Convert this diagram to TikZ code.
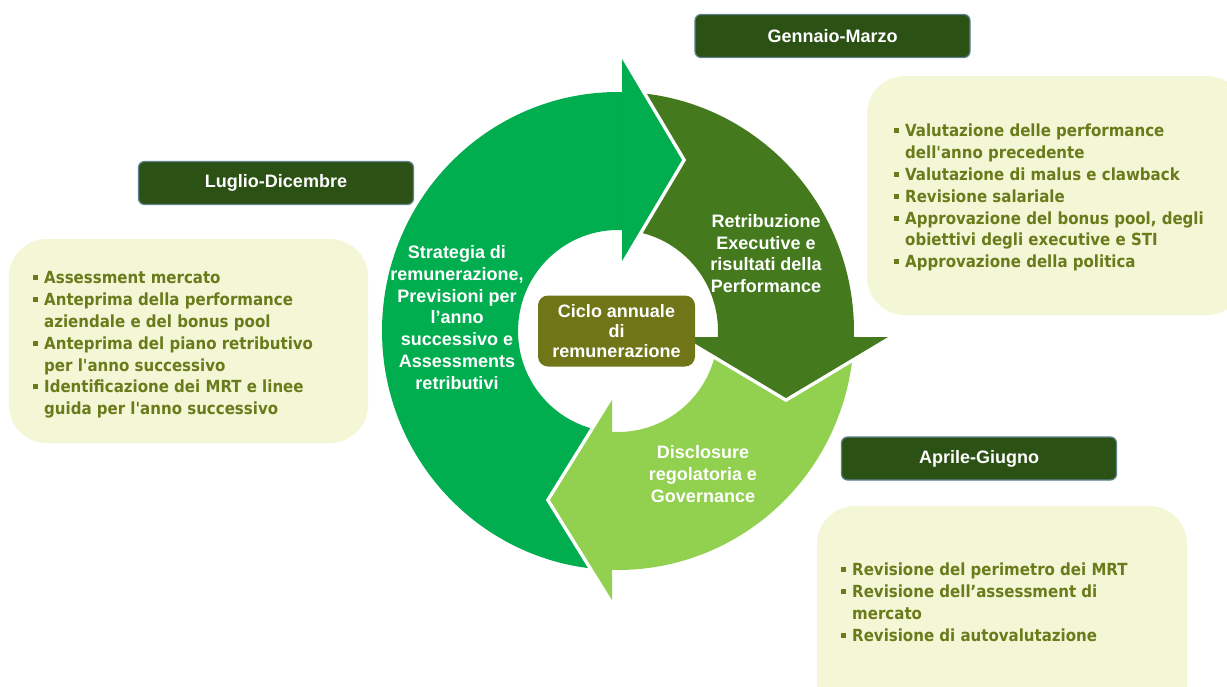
\documentclass[tikz,border=0pt]{standalone}
\usepackage{fontspec}
\setmainfont{Liberation Sans}
\newfontfamily\listfont{DejaVu Sans Condensed}
\usepackage{tikz}
\usetikzlibrary{calc}
\definecolor{arrowgreen}{RGB}{0,173,79}
\definecolor{arrowdark}{RGB}{68,122,29}
\definecolor{arrowlight}{RGB}{146,208,80}
\definecolor{cycleolive}{RGB}{112,117,24}
\definecolor{headgreen}{RGB}{44,81,20}
\definecolor{headborder}{RGB}{94,130,144}
\definecolor{listfill}{RGB}{243,247,214}
\definecolor{listtext}{RGB}{107,122,27}
\def\greenband{($(C)+(91.46:236 and 239)$) arc[start angle=91.46, end angle=270.97, x radius=236, y radius=239] -- ($(C)+(272.29:100 and 101)$) arc[start angle=272.29, end angle=93.44, x radius=100, y radius=101] -- cycle}
\def\darkband{($(C)+(270.97:236 and 239)$) arc[start angle=270.97, end angle=361.44, x radius=236, y radius=239] -- ($(C)+(363.41:100 and 101)$) arc[start angle=363.41, end angle=272.29, x radius=100, y radius=101] -- cycle}
\def\lightband{($(C)+(1.44:236 and 239)$) arc[start angle=1.44, end angle=91.46, x radius=236, y radius=239] -- ($(C)+(93.44:100 and 101)$) arc[start angle=93.44, end angle=3.41, x radius=100, y radius=101] -- cycle}
\def\greenhead{(622,59) -- (682,160) -- (622,261)}
\def\darkhead{(684,337) -- (786,398) -- (888,337)}
\def\lighthead{(612,400) -- (550,500) -- (612,600)}
\newcommand{\bul}{\llap{\rule[3.5pt]{5pt}{5pt}\hspace{6pt}}}
\tikzset{
  period/.style={draw=headborder, line width=1.2pt, fill=headgreen, rounded corners=6pt, text=white, minimum width=275pt, minimum height=43pt, font=\bfseries\fontsize{18}{21.8}\selectfont},
  listbox/.style={fill=listfill, rounded corners=38pt},
  items/.style={text=listtext, align=left, inner sep=0pt, anchor=north west, font=\listfont\bfseries\fontsize{16.7}{21.8}\selectfont},
  phase/.style={text=white, align=center, inner sep=0pt, font=\bfseries\fontsize{18}{21.8}\selectfont},
  gap/.style={white, line width=7pt}
}

\begin{document}
\begin{tikzpicture}[x=1pt,y=-1pt]
\useasboundingbox (0,0) rectangle (1227,686);
\coordinate (C) at (618,331);
\fill[arrowgreen] \greenband;
\fill[arrowdark] \darkband;
\fill[arrowlight] \lightband;
\draw[gap] \greenhead;
\fill[arrowgreen] \greenhead -- cycle;
\draw[gap] \darkhead;
\fill[arrowdark] \darkhead -- cycle;
\draw[gap] \lighthead;
\fill[arrowlight] \lighthead -- cycle;
\node[fill=cycleolive, rounded corners=10pt, minimum width=157pt, minimum height=71pt, text=white, align=center, font=\bfseries\fontsize{18}{19.7}\selectfont] (cycle) at (616.5,331) {Ciclo annuale\\di\\remunerazione};
\node[phase] (strategy) at (457,317.5) {Strategia di\\remunerazione,\\Previsioni per\\l’anno\\successivo e\\Assessments\\retributivi};
\node[phase] (payout) at (766,253.5) {Retribuzione\\Executive e\\risultati della\\Performance};
\node[phase] (disclosure) at (703,474) {Disclosure\\regolatoria e\\Governance};
\fill[listbox] (867,76) rectangle (1245,315);
\fill[listbox] (9,239) rectangle (368,443);
\fill[listbox] (817,506) rectangle (1187,720);
\node[period] (jan) at (832.5,36) {Gennaio-Marzo};
\node[period] (jul) at (276,183) {Luglio-Dicembre};
\node[period] (apr) at (979,458.5) {Aprile-Giugno};
\node[items] (janlist) at (905,124) {\bul Valutazione delle performance\\dell'anno precedente\\\bul Valutazione di malus e clawback\\\bul Revisione salariale\\\bul Approvazione del bonus pool, degli\\obiettivi degli executive e STI\\\bul Approvazione della politica};
\node[items] (jullist) at (44,271.5) {\bul Assessment mercato\\\bul Anteprima della performance\\aziendale e del bonus pool\\\bul Anteprima del piano retributivo\\per l'anno successivo\\\bul Identificazione dei MRT e linee\\guida per l'anno successivo};
\node[items] (aprlist) at (852,563) {\bul Revisione del perimetro dei MRT\\\bul Revisione dell’assessment di\\mercato\\\bul Revisione di autovalutazione};
\end{tikzpicture}
\end{document}
